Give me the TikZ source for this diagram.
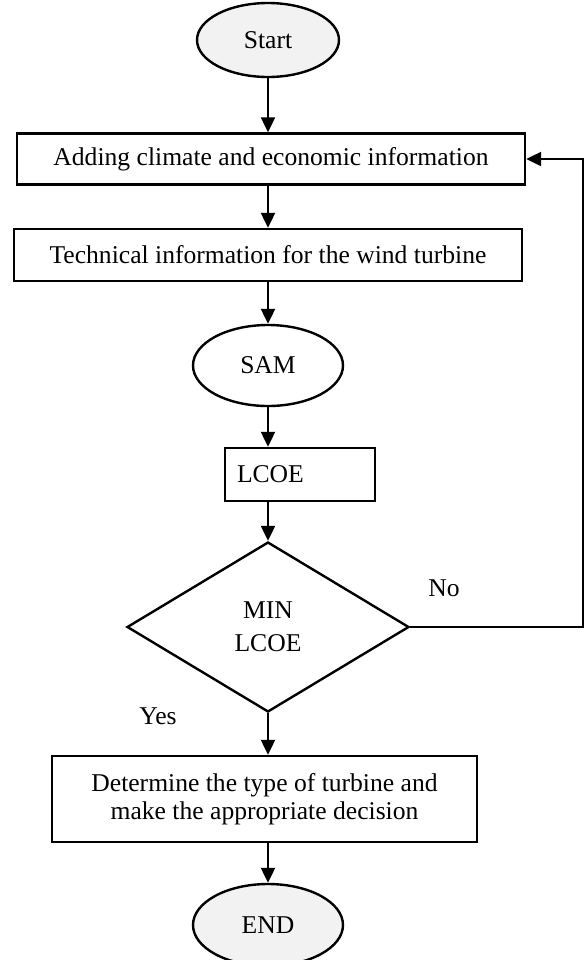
\documentclass[tikz,border=0pt]{standalone}
\usepackage{fontspec}
\setmainfont{Liberation Serif}
\usetikzlibrary{shapes.geometric,arrows.meta}
\definecolor{grigio}{HTML}{F2F2F2}
\begin{document}
\begin{tikzpicture}[x=0.5pt,y=-0.5pt,
    every node/.style={font=\fontsize{12.8}{14}\selectfont},
    box/.style={draw,line width=1.2pt,rectangle,inner sep=0pt,align=center},
    ovale/.style={draw,line width=1.2pt,ellipse,inner sep=0pt},
    freccia/.style={line width=1.1pt,-{Triangle[width=7pt,length=7.5pt]}}]
        \useasboundingbox[fill=white] (0,0) rectangle (585,960);
        % Blocchi
        \node[ovale,fill=grigio,minimum width=71pt,minimum height=37pt] (start) at (268,40) {Start};
        \node[box,minimum width=254pt,minimum height=25.5pt] (add) at (271,159) {Adding climate and economic information};
        \node[box,minimum width=254pt,minimum height=26pt] (tech) at (268,255) {Technical information for the wind turbine};
        \node[ovale,minimum width=75pt,minimum height=40.5pt] (sam) at (268,365.5) {SAM};
        \node[box,minimum width=75pt,minimum height=26.5pt,text width=63pt,align=left] (lcoe) at (300,474.5) {LCOE};
        \node[draw,diamond,line width=1.2pt,inner sep=0pt,minimum width=141pt,minimum height=85pt,align=center,font=\fontsize{12.8}{16.5}\selectfont] (minlcoe) at (268,627) {MIN\\LCOE};
        \node[box,minimum width=212.5pt,minimum height=43pt] (det) at (264.5,799) {Determine the type of turbine and\\make the appropriate decision};
        \node[ovale,fill=grigio,minimum width=75pt,minimum height=41pt] (end) at (268,925) {END};
        \coordinate (bordo) at (583,0);
        % Frecce
        \draw[freccia] (start.south) -- (start.south |- add.north);
        \draw[freccia] (start.south |- add.south) -- (start.south |- tech.north);
        \draw[freccia] (tech.south -| sam) -- (sam.north);
        \draw[freccia] (sam.south) -- (sam.south |- lcoe.north);
        \draw[freccia] (sam.south |- lcoe.south) -- (minlcoe.north);
        \draw[freccia] (minlcoe.south) -- (minlcoe.south |- det.north);
        \draw[freccia] (minlcoe.south |- det.south) -- (end.north);
        \draw[freccia] (minlcoe.east) -- (minlcoe.east -| bordo) |- (add.east);
        % Etichette
        \node (no) at (444,588) {No};
        \node (yes) at (158,716) {Yes};
    \end{tikzpicture}
\end{document}
